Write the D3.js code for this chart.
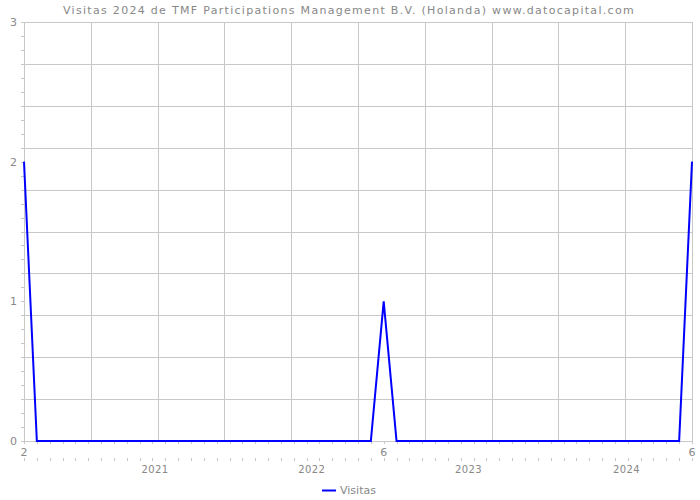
<!DOCTYPE html>
<html>
<head>
<meta charset="utf-8">
<script src="https://cdn.jsdelivr.net/npm/d3@7"></script>
<style>
  body { margin: 0; background: #fff; }
  svg { display: block; }
  text { font-family: "DejaVu Sans", sans-serif; }
</style>
</head>
<body>
<svg id="chart" width="700" height="500"></svg>
<script>
// Data: monthly visits Feb 2020 .. Jun 2024
const months = d3.range(0, 53); // month index from Feb 2020
const visits = [2,0,0,0,0,0,0,0,0,0,0,0,0,0,0,0,0,0,0,0,0,0,0,0,0,0,0,0,1,0,0,0,0,0,0,0,0,0,0,0,0,0,0,0,0,0,0,0,0,0,0,0,2];
const monthTickIdx = [0, 28, 52];
const monthTickLabels = ["2", "6", "6"];
const years = ["2021", "2022", "2023", "2024"];
const yearPos = [10.2, 22.4, 34.6, 46.9];
const yTickLabels = [0, 1, 2, 3];
const title = "Visitas 2024 de TMF Participations Management B.V. (Holanda) www.datocapital.com";
const seriesName = "Visitas";

const svg = d3.select("#chart");
const L = 24, R = 692, T = 22, B = 441;
const x = d3.scaleLinear().domain([0, 52]).range([L, R]);
const y = d3.scaleLinear().domain([0, 3]).range([B, T]);
const grid = "#c8c8c8", txt = "#888";

// horizontal gridlines every 0.3
const hGrid = d3.range(0, 11).map(i => +(i * 0.3).toFixed(2));
svg.append("g").selectAll("line").data(hGrid).join("line")
  .attr("x1", L).attr("x2", R)
  .attr("y1", d => Math.round(y(d)) + 0.5).attr("y2", d => Math.round(y(d)) + 0.5)
  .attr("stroke", grid).attr("stroke-width", 1);

// vertical gridlines, 10 equal divisions
const vGrid = d3.range(0, 11).map(i => i * 5.2);
svg.append("g").selectAll("line").data(vGrid).join("line")
  .attr("x1", d => Math.round(x(d)) + 0.5).attr("x2", d => Math.round(x(d)) + 0.5)
  .attr("y1", T).attr("y2", B)
  .attr("stroke", grid).attr("stroke-width", 1);

// left minor ticks every 0.1
const yMinor = d3.range(0, 31).map(i => i * 0.1);
svg.append("g").selectAll("line").data(yMinor).join("line")
  .attr("x1", L - 3).attr("x2", L)
  .attr("y1", d => Math.round(y(d)) + 0.5).attr("y2", d => Math.round(y(d)) + 0.5)
  .attr("stroke", grid);

// y labels
svg.append("g").selectAll("text").data(yTickLabels).join("text")
  .attr("x", L - 7).attr("y", d => y(d) + 4)
  .attr("text-anchor", "end").attr("font-size", 11).attr("fill", txt)
  .text(d => d);

// x monthly ticks, two rows
svg.append("g").selectAll("line").data(months).join("line")
  .attr("x1", d => Math.round(x(d)) + 0.5).attr("x2", d => Math.round(x(d)) + 0.5)
  .attr("y1", B).attr("y2", B + 3).attr("stroke", grid);
svg.append("g").selectAll("line").data(months).join("line")
  .attr("x1", d => Math.round(x(d)) + 0.5).attr("x2", d => Math.round(x(d)) + 0.5)
  .attr("y1", B + 17).attr("y2", B + 20).attr("stroke", grid);

// month labels
svg.append("g").selectAll("text").data(monthTickIdx).join("text")
  .attr("x", d => x(d)).attr("y", B + 15)
  .attr("text-anchor", "middle").attr("font-size", 11).attr("fill", txt)
  .text((d, i) => monthTickLabels[i]);

// year labels
svg.append("g").selectAll("text").data(years).join("text")
  .attr("x", (d, i) => x(yearPos[i])).attr("y", B + 32)
  .attr("text-anchor", "middle").attr("font-size", 10).attr("letter-spacing", 0.4).attr("fill", txt)
  .text(d => d);

// line
const line = d3.line().x((d, i) => x(months[i])).y(d => y(d));
svg.append("path").datum(visits)
  .attr("d", line).attr("fill", "none")
  .attr("stroke", "#0000ff").attr("stroke-width", 2);

// title
svg.append("text").attr("x", 349).attr("y", 14)
  .attr("text-anchor", "middle").attr("font-size", 11).attr("letter-spacing", 1.3).attr("fill", txt)
  .text(title);

// legend
const lg = svg.append("g");
lg.append("line").attr("x1", 322).attr("x2", 336).attr("y1", 490.5).attr("y2", 490.5)
  .attr("stroke", "#0000ff").attr("stroke-width", 2);
lg.append("text").attr("x", 340).attr("y", 494).attr("font-size", 11).attr("fill", txt)
  .text(seriesName);
</script>
</body>
</html>
